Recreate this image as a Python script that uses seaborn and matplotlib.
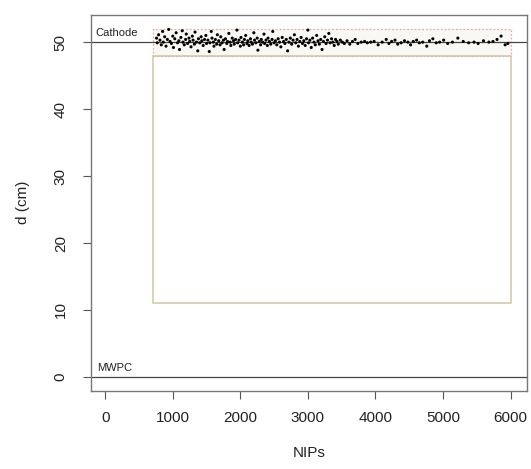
import matplotlib
matplotlib.use("Agg")
import matplotlib.pyplot as plt
import seaborn as sns
import pandas as pd
from matplotlib.patches import Rectangle

pts_a = [(760,50.6),(770,49.9),(790,51.1),(810,50.3),(830,49.6),(850,51.6),(860,50.0),(880,50.8),(900,49.4),(920,50.4),(940,51.9),(960,50.1),(980,49.8),(1000,50.9),(1010,49.2),(1030,50.5),(1050,51.4),(1070,49.9),(1090,50.2),(1100,48.9),(1120,50.7),(1140,51.7),(1150,50.0),(1170,49.6),(1190,50.4),(1200,51.2),(1220,49.8),(1240,50.6),(1250,50.1),(1270,49.3),(1290,50.9),(1300,50.3),(1320,49.7),(1330,51.5),(1350,50.0),(1370,48.7),(1380,50.5),(1400,49.9),(1420,50.8),(1430,50.2),(1450,49.5),(1470,50.4),(1490,51.0),(1500,49.8)]
pts_b = [(1520,50.3),(1540,48.6),(1550,49.9),(1570,51.6),(1580,50.6),(1600,50.0),(1610,49.4),(1630,50.4),(1650,49.7),(1660,51.1),(1680,50.2),(1700,49.6),(1710,50.8),(1730,49.9),(1750,50.3),(1760,48.9),(1780,50.5),(1800,49.8),(1810,50.1),(1830,51.3),(1850,50.0),(1860,49.5),(1880,50.6),(1900,50.2),(1910,49.7),(1930,50.4),(1950,51.8),(1960,49.9),(1980,50.3),(2000,49.4),(2010,50.7),(2030,50.0),(2050,49.6),(2060,50.4),(2080,51.0),(2100,49.8),(2110,50.2),(2130,49.5),(2150,50.5),(2160,50.0),(2180,49.7),(2200,51.4),(2210,50.3),(2230,49.9),(2250,50.6),(2260,48.8),(2280,50.1),(2300,49.6),(2310,50.4),(2330,50.0),(2350,51.2),(2360,49.8),(2380,50.3),(2400,49.5),(2410,50.6),(2430,50.1),(2450,49.7),(2470,50.4),(2480,51.6),(2500,49.9)]
pts_c = [(2520,50.2),(2540,49.6),(2560,50.5),(2580,50.0),(2600,49.3),(2620,50.7),(2640,50.1),(2660,49.8),(2680,50.4),(2700,48.7),(2720,50.0),(2740,50.6),(2760,49.7),(2780,50.3),(2800,51.1),(2820,49.9),(2840,50.4),(2860,49.4),(2880,50.1),(2900,50.7),(2920,49.8),(2940,50.2),(2960,49.5),(2980,50.5),(3000,51.8),(3010,49.9),(3030,50.3),(3050,49.2),(3070,50.6),(3090,50.0),(3110,49.6),(3130,51.0),(3150,50.2),(3170,49.7),(3190,50.4),(3210,48.9),(3230,50.1),(3250,50.8),(3270,49.8),(3290,50.3),(3310,51.3),(3330,49.9),(3350,50.5),(3370,50.0),(3390,49.5),(3410,50.4),(3430,50.1),(3450,49.7),(3480,50.3),(3510,50.0),(3540,49.8)]
pts_d = [(3580,50.2),(3620,49.7),(3660,50.1),(3700,50.4),(3740,49.8),(3790,50.0),(3840,50.1),(3880,49.9),(3930,50.0),(3980,50.1),(4040,49.6),(4100,50.0),(4160,50.4),(4200,49.8),(4240,50.1),(4290,50.3),(4330,49.7),(4380,49.9),(4430,50.2),(4480,50.0),(4520,49.6),(4560,50.1),(4610,50.3),(4650,49.9),(4700,50.0),(4760,49.4),(4800,50.2),(4850,50.5),(4900,49.9),(4950,50.0),(5010,50.3),(5070,49.8),(5140,50.0),(5220,50.6),(5300,50.1),(5380,49.9),(5460,50.0),(5520,49.8),(5600,50.2),(5680,50.0),(5740,50.1),(5800,50.4),(5860,50.9),(5920,49.6),(5960,49.8)]

x_ticks = [0, 1000, 2000, 3000, 4000, 5000, 6000]
y_ticks = [0, 10, 20, 30, 40, 50]
cathode_d = 50
mwpc_d = 0
band_x = (700, 6000)
band_y = (48, 52)
fid_y = (11, 48)

pts = pts_a + pts_b + pts_c + pts_d
df = pd.DataFrame(pts, columns=["NIPs", "d"])

sns.set_style("ticks")
plt.rcParams["font.family"] = ["Liberation Sans", "DejaVu Sans"]

fig = plt.figure(figsize=(5.31, 4.69), dpi=100)
ax = fig.add_axes([0.1708, 0.167, 0.8212, 0.8017])

# regions
ax.add_patch(Rectangle((band_x[0], band_y[0]), band_x[1]-band_x[0], band_y[1]-band_y[0],
                       facecolor="#f9f8f5", edgecolor="#e2aea2", lw=0.9, ls=(0, (1.5, 1.5)), zorder=1))
ax.add_patch(Rectangle((band_x[0], fid_y[0]), band_x[1]-band_x[0], fid_y[1]-fid_y[0],
                       facecolor="none", edgecolor="#cfc6a4", lw=1.1, zorder=1))

ax.axhline(cathode_d, color="#444444", lw=0.9, zorder=2)
ax.axhline(mwpc_d, color="#444444", lw=0.9, zorder=2)

sns.scatterplot(data=df, x="NIPs", y="d", ax=ax, s=5, color="black", edgecolor="none", zorder=3)

ax.text(-150, 51.4, "Cathode", fontsize=8, color="#222222", va="center", ha="left")
ax.text(-120, 1.4, "MWPC", fontsize=8, color="#222222", va="center", ha="left")

ax.set_xlim(-215, 6240)
ax.set_ylim(-2.05, 54.1)
ax.set_xticks(x_ticks)
ax.set_yticks(y_ticks)
ax.set_xticklabels([str(t) for t in x_ticks], fontsize=11, color="#222222")
ax.set_yticklabels([str(t) for t in y_ticks], fontsize=11, color="#222222", rotation=90, va="center")
ax.tick_params(axis="both", direction="out", length=5.5, width=0.8, color="#555555")
ax.tick_params(axis="x", pad=9)
ax.tick_params(axis="y", pad=11)
ax.set_xlabel("NIPs", fontsize=11, color="#222222", labelpad=15)
ax.set_ylabel("d (cm)", fontsize=11, color="#222222", labelpad=17)
for s in ax.spines.values():
    s.set_visible(True)
    s.set_color("#777777")
    s.set_linewidth(1.0)

fig.savefig("out.png", dpi=100)
